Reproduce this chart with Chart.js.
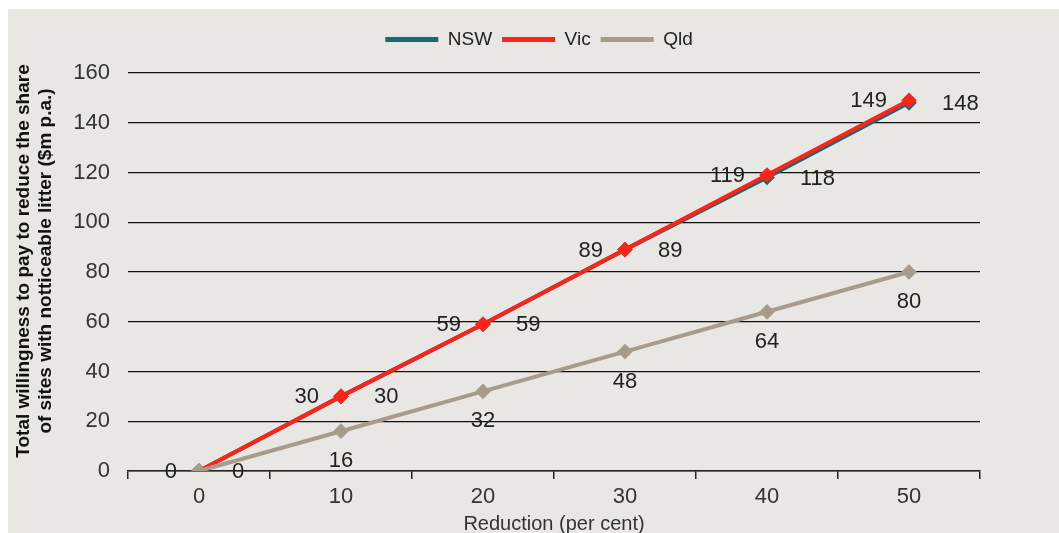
<!DOCTYPE html>
<html>
<head>
<meta charset="utf-8">
<script src="https://cdn.jsdelivr.net/npm/chart.js@4"></script>
<style>
html,body{margin:0;padding:0;background:#fff;}
#wrap{width:1059px;height:533px;position:relative;}
</style>
</head>
<body>
<div id="wrap"><canvas id="c" width="1059" height="533"></canvas></div>
<script>
const categories = ['0', '10', '20', '30', '40', '50'];
const nswValues = [0, 30, 59, 89, 118, 148];
const vicValues = [0, 30, 59, 89, 119, 149];
const qldValues = [0, 16, 32, 48, 64, 80];
const yTicks = [0, 20, 40, 60, 80, 100, 120, 140, 160];

const FONT = "'Liberation Sans', Arial, sans-serif";

const bgPlugin = {
  id: 'bg',
  beforeDraw(chart) {
    const ctx = chart.ctx;
    ctx.save();
    ctx.fillStyle = '#e8e7e4';
    ctx.fillRect(8, 9, chart.width - 8, chart.height - 9);
    ctx.restore();
  }
};

// extra gap under the legend, and legend centred on the panel
const legendGap = {
  id: 'legendGap',
  beforeLayout(chart) {
    const lg = chart.legend;
    if (lg && !lg._gapPatched) {
      const orig = lg.fit.bind(lg);
      lg.fit = function () { orig(); this.height += 14; };
      lg._gapPatched = true;
    }
  },
  afterLayout(chart) {
    const lg = chart.legend;
    if (lg) { lg.left += 49; lg.right += 49; }
  }
};

const labelPlugin = {
  id: 'pointLabels',
  afterDatasetsDraw(chart) {
    const ctx = chart.ctx;
    ctx.save();
    ctx.font = '22px ' + FONT;
    ctx.fillStyle = '#222';
    ctx.textBaseline = 'middle';
    chart.data.datasets.forEach((ds, i) => {
      const meta = chart.getDatasetMeta(i);
      meta.data.forEach((pt, j) => {
        const txt = String(ds.data[j]);
        if (ds.label === 'NSW') {
          ctx.textAlign = 'left';
          ctx.fillText(txt, pt.x + 33, pt.y + 1);
        } else if (ds.label === 'Vic') {
          ctx.textAlign = 'right';
          ctx.fillText(txt, pt.x - 22, pt.y + 1);
        } else {
          if (ds.data[j] === 0) return; // hidden under the axis label
          ctx.textAlign = 'center';
          ctx.fillText(txt, pt.x, pt.y + 30);
        }
      });
    });
    ctx.restore();
  }
};

new Chart(document.getElementById('c'), {
  type: 'line',
  data: {
    labels: categories,
    datasets: [
      { label: 'NSW', data: nswValues, borderColor: '#16687a', backgroundColor: '#16687a', order: 2,
        borderWidth: 4, pointStyle: 'rectRot', pointRadius: 5, pointHoverRadius: 5 },
      { label: 'Vic', data: vicValues, borderColor: '#fa2418', backgroundColor: '#fa2418', order: 1,
        borderWidth: 4, pointStyle: 'rectRot', pointRadius: 5, pointHoverRadius: 5 },
      { label: 'Qld', data: qldValues, borderColor: '#a79c8b', backgroundColor: '#a79c8b', order: 0,
        borderWidth: 4, pointStyle: 'rectRot', pointRadius: 5, pointHoverRadius: 5 }
    ]
  },
  options: {
    responsive: false,
    animation: false,
    events: [],
    layout: { padding: { left: 0, right: 79, top: 20, bottom: 0 } },
    plugins: {
      legend: {
        display: true,
        position: 'top',
        labels: {
          font: { family: FONT, size: 19 },
          color: '#222',
          boxWidth: 53,
          boxHeight: 5,
          padding: 10,
          generateLabels(chart) {
            return chart.data.datasets.map((ds, i) => ({
              text: ds.label,
              fillStyle: ds.borderColor,
              strokeStyle: ds.borderColor,
              lineWidth: 0,
              hidden: false,
              datasetIndex: i,
              fontColor: '#222'
            }));
          }
        }
      },
      tooltip: { enabled: false }
    },
    scales: {
      x: {
        type: 'category',
        offset: true,
        grid: { display: true, offset: true, drawOnChartArea: false, drawTicks: true,
                tickLength: 8, color: '#222', lineWidth: 1.5 },
        border: { display: true, color: '#222', width: 1.5 },
        ticks: { font: { family: FONT, size: 22 }, color: '#333', padding: 5, maxRotation: 0 },
        title: { display: true, text: 'Reduction (per cent)',
                 font: { family: FONT, size: 20 }, color: '#333', padding: { top: 0, bottom: -3 } },
        afterFit(s) { s.height = 62; }
      },
      y: {
        min: 0, max: 160,
        afterBuildTicks(s) { s.ticks = yTicks.map(v => ({ value: v })); },
        grid: { color: '#111', lineWidth: 1.2, drawTicks: false },
        border: { display: false },
        ticks: { font: { family: FONT, size: 22 }, color: '#333', padding: 18 },
        title: { display: true,
                 text: ['Total willingness to pay to reduce the share', 'of sites with notticeable litter ($m p.a.)'],
                 font: { family: FONT, size: 19, weight: 'bold', lineHeight: 1.16 },
                 color: '#111', padding: { top: 13, bottom: 0 } },
        afterFit(s) {
          s.width = 128;
          if (!s._titlePatched) {
            const orig = s.drawTitle.bind(s);
            s.drawTitle = function () {
              this.ctx.save();
              this.ctx.translate(0, -11);
              orig();
              this.ctx.restore();
            };
            s._titlePatched = true;
          }
        }
      }
    }
  },
  plugins: [bgPlugin, legendGap, labelPlugin]
});
</script>
</body>
</html>
